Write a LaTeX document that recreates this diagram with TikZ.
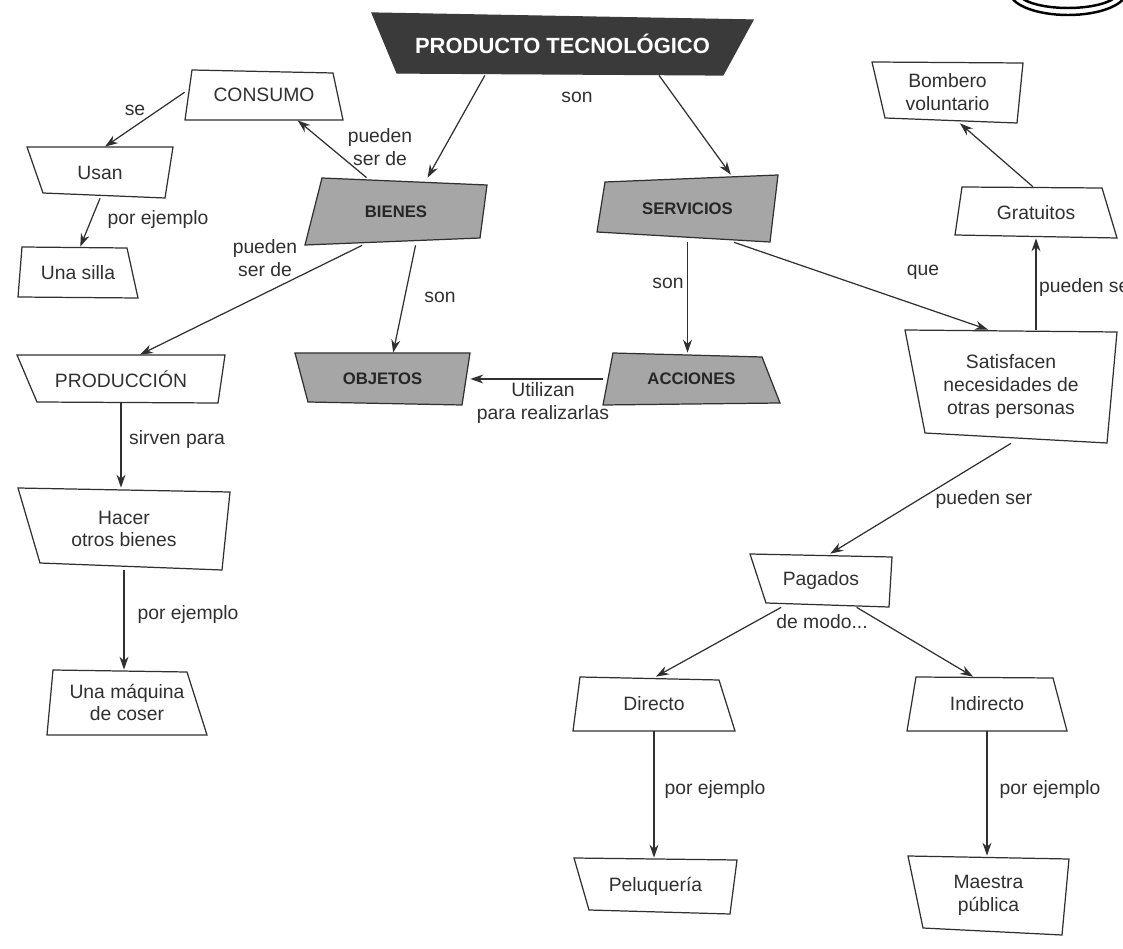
\documentclass[tikz,border=0pt]{standalone}
\usepackage{fontspec}
\setmainfont{Liberation Sans}
\usetikzlibrary{arrows.meta,positioning,fit,calc}

\definecolor{ink}{HTML}{303030}
\definecolor{shade}{HTML}{A6A6A6}
\definecolor{darkshade}{HTML}{3A3A3A}

% box drawn through its four corners, named node fitted around it
\newcommand{\concept}[7][plain box]{%
  \draw[#1] #3 -- #4 -- #5 -- #6 -- cycle;
  \node[fit={#3 #4 #5 #6}, inner sep=0pt, label={[#1 text]center:#7}] (#2) {};
}

\begin{document}
\begin{tikzpicture}[x=0.02cm,y=-0.02cm,>={Stealth[length=2.6mm,width=1.8mm]},
    plain box/.style={draw=ink,line width=0.7pt,fill=white},
    gray box/.style={draw=ink,line width=0.7pt,fill=shade},
    dark box/.style={draw=darkshade,line width=0.7pt,fill=darkshade},
    plain box text/.style={text=ink,align=center,font=\fontsize{11}{13}\selectfont},
    gray box text/.style={text=black!85,align=center,font=\fontsize{9.5}{11}\selectfont\bfseries},
    dark box text/.style={text=white,font=\fontsize{12.5}{14}\selectfont\bfseries},
    lbl/.style={text=ink,align=center,inner sep=1pt,font=\fontsize{11}{13}\selectfont},
    link/.style={->,color=ink,line width=0.7pt}]
  \useasboundingbox (0,0) rectangle (1123,949);

  % page mark in the corner
  \draw[line width=1.4pt] (1068,-8) ellipse [x radius=1.16cm, y radius=0.46cm];
  \draw[line width=1.4pt] (1068,-8) ellipse [x radius=1.0cm, y radius=0.32cm];

  % concepts
  \concept[dark box]{pt}{(372,13)}{(753,20)}{(723,75)}{(397,73)}{PRODUCTO TECNOLÓGICO}
  \concept{consumo}{(192,70)}{(333,73)}{(343,120)}{(185,120)}{CONSUMO}
  \concept{usan}{(27,147)}{(173,147)}{(165,198)}{(43,193)}{Usan}
  \concept{silla}{(22,247)}{(127,248)}{(138,298)}{(18,297)}{Una silla}
  \concept[gray box]{bienes}{(322,178)}{(487,185)}{(480,238)}{(305,245)}{BIENES}
  \concept[gray box]{serv}{(605,182)}{(778,175)}{(770,242)}{(597,232)}{SERVICIOS}
  \concept[gray box]{obj}{(295,353)}{(470,353)}{(462,405)}{(308,402)}{OBJETOS}
  \concept[gray box]{acc}{(613,353)}{(762,357)}{(780,403)}{(603,405)}{ACCIONES}
  \concept{prod}{(17,355)}{(225,355)}{(218,403)}{(37,402)}{PRODUCCIÓN}
  \concept{hacer}{(18,488)}{(230,492)}{(222,570)}{(40,563)}{Hacer\\otros bienes}
  \concept{maq}{(53,670)}{(187,672)}{(207,735)}{(47,735)}{Una máquina\\de coser}
  \concept{bomb}{(872,62)}{(1023,63)}{(1017,123)}{(885,118)}{Bombero\\voluntario}
  \concept{grat}{(962,187)}{(1102,188)}{(1117,238)}{(955,235)}{Gratuitos}
  \concept{sat}{(905,330)}{(1117,332)}{(1107,443)}{(925,433)}{Satisfacen\\necesidades de\\otras personas}
  \concept{pag}{(750,554)}{(892,557)}{(889,607)}{(766,603)}{Pagados}
  \concept{dir}{(580,677)}{(719,680)}{(735,731)}{(573,731)}{Directo}
  \concept{ind}{(916,677)}{(1053,678)}{(1067,731)}{(907,731)}{Indirecto}
  \concept{pel}{(574,858)}{(737,860)}{(730,914)}{(589,910)}{Peluquería}
  \concept{mae}{(908,856)}{(1069,859)}{(1062,935)}{(923,928)}{Maestra\\pública}

  % link words
  \node[lbl] (l1) at (577,97) {son};
  \node[lbl] (l2) at (380,147) {pueden\\ser de};
  \node[lbl] (l3) at (135,110) {se};
  \node[lbl] (l4) at (158,220) {por ejemplo};
  \node[lbl] (l5) at (265,258) {pueden\\ser de};
  \node[lbl] (l6) at (440,297) {son};
  \node[lbl] (l7) at (668,283) {son};
  \node[lbl] (l8) at (923,272) {que};
  \node[lbl] (l9) at (543,403) {Utilizan\\para realizarlas};
  \node[lbl] (l10) at (177,440) {sirven para};
  \node[lbl] (l11) at (188,615) {por ejemplo};
  \node[lbl,anchor=west] (l12) at (1037,288) {pueden ser};
  \node[lbl] (l13) at (984,500) {pueden ser};
  \node[lbl] (l14) at (822,622) {de modo...};
  \node[lbl] (l15) at (715,790) {por ejemplo};
  \node[lbl] (l16) at (1050,790) {por ejemplo};

  % connectors
  \path[link]
    (pt.202) edge (bienes.47)
    (pt.-18) edge (serv.38)
    (bienes.131) edge (consumo.-37)
    (consumo.178) edge (usan.79)
    (usan.south) edge (silla.85)
    (bienes.225) edge (prod.52)
    (bienes.-60) edge (obj.68)
    (serv.south) edge (serv.south |- acc.north)
    (serv.-36) edge (sat.112)
    (acc.west) edge (obj.east)
    (prod.south) edge (prod.south |- hacer.north)
    (hacer.south) edge (hacer.south |- maq.north)
    (grat.south |- sat.north) edge (grat.south)
    (grat.97) edge (bomb.-68)
    (sat.south) edge (pag.71)
    (pag.214) edge (dir.86)
    (pag.-37) edge (ind.117)
    (dir.south) edge (dir.south |- pel.north)
    (ind.south) edge (ind.south |- mae.north);
\end{tikzpicture}
\end{document}
